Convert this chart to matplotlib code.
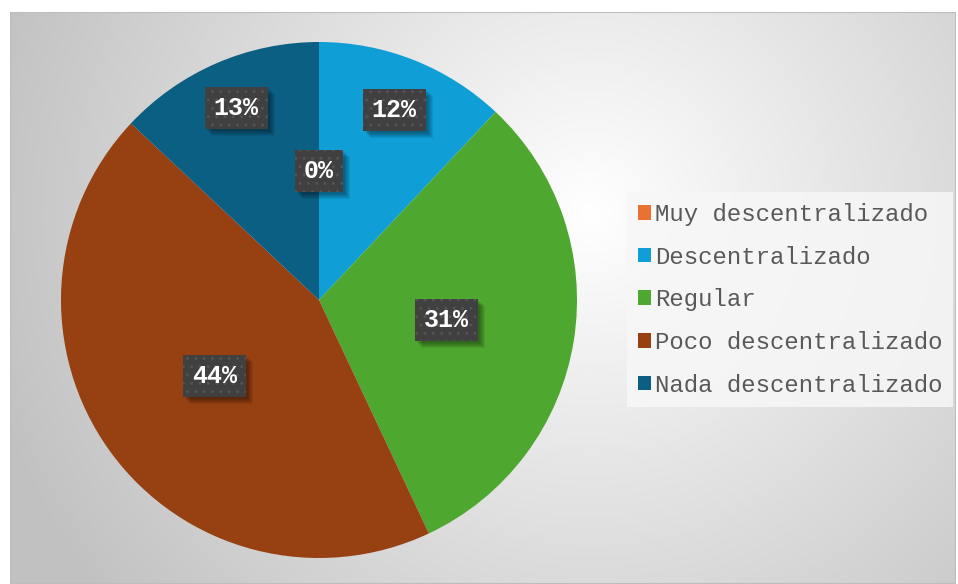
import numpy as np
import matplotlib.pyplot as plt
from matplotlib.patches import Rectangle

categorias = ["Muy descentralizado", "Descentralizado", "Regular",
              "Poco descentralizado", "Nada descentralizado"]
porcentajes = [0, 12, 31, 44, 13]
colores = ["#E97132", "#0F9ED5", "#4EA72E", "#974012", "#0B5F83"]
# distancia de cada etiqueta al centro (fraccion del radio)
dist_etiqueta = [0.50, 0.79, 0.50, 0.50, 0.81]

W, H = 958, 584
fig = plt.figure(figsize=(W / 100, H / 100), dpi=100)
fig.patch.set_facecolor("white")

# fondo con degradado radial
bg = fig.add_axes([10 / W, 0, (W - 12) / W, (H - 12) / H])
yy, xx = np.mgrid[0:H - 12, 0:W - 12]
cx, cy = 580, 200
d = np.sqrt((xx - cx) ** 2 + (yy - cy) ** 2) / 620.0
g = np.clip(1.0 - 0.24 * d, 0.76, 1.0)
bg.imshow(np.dstack([g, g, g]), aspect="auto", extent=[0, 1, 0, 1], origin="upper")
bg.add_patch(Rectangle((0, 0), 1, 1, transform=bg.transAxes, fill=False,
                       edgecolor="#BDBDBD", lw=1.5))
bg.set_axis_off()

# pastel
R = 258
cxp, cyp = 319, H - 300
ax = fig.add_axes([(cxp - R) / W, (cyp - R) / H, 2 * R / W, 2 * R / H])
wedges, _ = ax.pie(porcentajes, colors=colores, startangle=90, counterclock=False,
                   radius=1, wedgeprops=dict(linewidth=0))
ax.set_xlim(-1, 1)
ax.set_ylim(-1, 1)
ax.set_aspect("equal")
ax.set_axis_off()

plt.rcParams["hatch.color"] = "#545454"
plt.rcParams["hatch.linewidth"] = 0.9

etiquetas = []
for w, p, r in zip(wedges, porcentajes, dist_etiqueta):
    ang = np.deg2rad((w.theta1 + w.theta2) / 2)
    t = ax.text(r * np.cos(ang), r * np.sin(ang), f"{p}%", ha="center", va="center",
                color="white", fontsize=18, fontweight="bold",
                family="Liberation Mono", zorder=5,
                bbox=dict(boxstyle="square,pad=0.36", facecolor="#404040",
                          edgecolor="#545454", linewidth=0, hatch=".."))
    etiquetas.append(t)

# sombra difusa detras de cada etiqueta (en pixeles)
fig.canvas.draw()
for t in etiquetas:
    bb = t.get_bbox_patch().get_window_extent()
    for o in (2, 3, 4, 5, 6, 7):
        sh = Rectangle((bb.x0 + o, bb.y0 - o), bb.width, bb.height,
                       facecolor="black", edgecolor="none", alpha=0.07, zorder=4)
        sh.set_transform(None)
        ax.add_patch(sh)
ax.set_xlim(-1, 1)
ax.set_ylim(-1, 1)

# leyenda
leg = fig.legend(wedges, categorias, loc="upper left",
                 bbox_to_anchor=(627 / W, 1 - 192 / H),
                 prop=dict(family="Liberation Mono", size=17.3),
                 labelcolor="#595959", frameon=True, fancybox=False,
                 handlelength=0.55, handleheight=0.55, handletextpad=0.15,
                 labelspacing=0.82, borderpad=0.45, borderaxespad=0)
leg.get_frame().set_facecolor("#F7F7F7")
leg.get_frame().set_alpha(0.85)
leg.get_frame().set_edgecolor("none")

fig.savefig("out.png", dpi=100)
